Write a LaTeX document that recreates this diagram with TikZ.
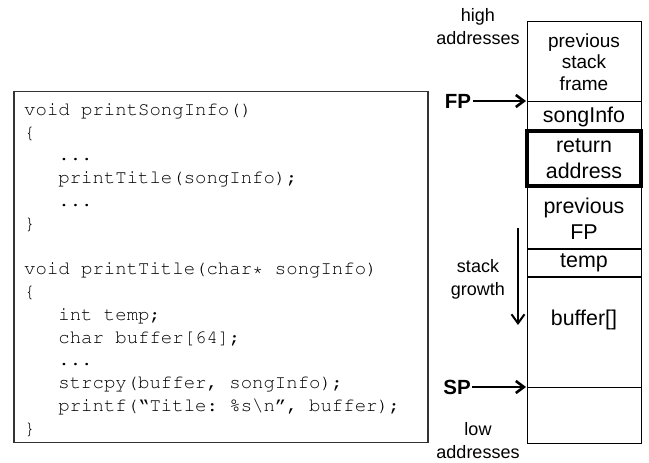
\documentclass[tikz,border=0pt]{standalone}
\usepackage[T1]{fontenc}
\usepackage{fontspec}
\setmainfont{Liberation Sans}
\usetikzlibrary{arrows.meta}
% Courier (psnfss) for the C listing, with plain word spacing
\newcommand\codefont{\fontencoding{T1}\fontfamily{pcr}\fontseries{m}\fontshape{n}\fontsize{19}{22.77}\selectfont\frenchspacing}
\begin{document}
\begin{tikzpicture}[x=1pt,y=-1pt,
  codeline/.style={font=\codefont, anchor=base west, inner sep=0pt},
  cellfont/.style={font=\fontsize{21.4}{25.7}\selectfont, align=center, inner sep=0pt},
  framefont/.style={font=\fontsize{19}{21.7}\selectfont, align=center, inner sep=0pt},
  sidefont/.style={font=\fontsize{18}{23}\selectfont, align=center, inner sep=0pt},
  reg/.style={font=\bfseries\fontsize{20.5}{24}\selectfont, inner sep=1.5pt},
  pointer/.style={line width=2.6pt, -{Straight Barb[length=8pt,width=12pt]}},
  growth/.style={line width=2pt, -{Straight Barb[length=9pt,width=13pt]}},
  cellline/.style={line width=1pt},
  codebox/.style={line width=1.3pt, draw=black!80}
]
\useasboundingbox (0,0) rectangle (649,463);

% ---- C listing ----
\draw[codebox] (14,91.5) rectangle (428,442.7);
\node[codeline] (c0)  at (24,115.3)  {void printSongInfo()};
\node[codeline] (c1)  at (24,138.07) {\{};
\node[codeline] (c2)  at (58.2,160.84) {...};
\node[codeline] (c3)  at (58.2,183.61) {printTitle(songInfo);};
\node[codeline] (c4)  at (58.2,206.38) {...};
\node[codeline] (c5)  at (24,229.15) {\}};
\node[codeline] (c7)  at (24,274.69) {void printTitle(char* songInfo)};
\node[codeline] (c8)  at (24,297.46) {\{};
\node[codeline] (c9)  at (58.2,320.23) {int temp;};
\node[codeline] (c10) at (58.2,343.0)  {char buffer[64];};
\node[codeline] (c11) at (58.2,365.77) {...};
\node[codeline] (c12) at (58.2,388.54) {strcpy(buffer, songInfo);};
\node[codeline] (c13) at (58.2,411.31) {printf(\textquotedblleft Title: \%s\textbackslash n\textquotedblright, buffer);};
\node[codeline] (c14) at (24,434.08) {\}};

% ---- stack column ----
\draw[cellline] (527,21) rectangle (641,443);
\draw[cellline] (527,101) -- (641,101);
\draw[cellline] (527,387) -- (641,387);
\draw[line width=1.4pt] (527,249) -- (641,249);
\draw[line width=1.4pt] (527,277) -- (641,277);
\draw[line width=3.3pt] (527,131) rectangle (641,186);

\node[framefont] (psf) at (584,62)  {previous\\stack\\frame};
\node[cellfont]  (si)  at (584,117) {songInfo};
\node[cellfont]  (ra)  at (584,159) {return\\address};
\node[cellfont]  (pfp) at (584,219) {previous\\FP};
\node[cellfont]  (tmp) at (584,263) {temp};
\node[cellfont]  (buf) at (584,320) {buffer[]};

% ---- side labels ----
\node[sidefont] (hi) at (478,27)  {high\\addresses};
\node[sidefont] (sg) at (478,279) {stack\\growth};
\node[sidefont] (lo) at (478,441) {low\\addresses};

% ---- frame and stack pointers ----
\node[reg] (fp) at (458,101) {FP};
\node[reg] (sp) at (457,387) {SP};
\coordinate (fptip) at (526,101);
\coordinate (sptip) at (526,387);
\draw[pointer] (fp.east) -- (fptip);
\draw[pointer] (sp.east) -- (sptip);

% ---- direction of growth ----
\coordinate (gtop) at (518,228);
\coordinate (gbot) at (518,325);
\draw[growth] (gtop) -- (gbot);
\end{tikzpicture}
\end{document}
